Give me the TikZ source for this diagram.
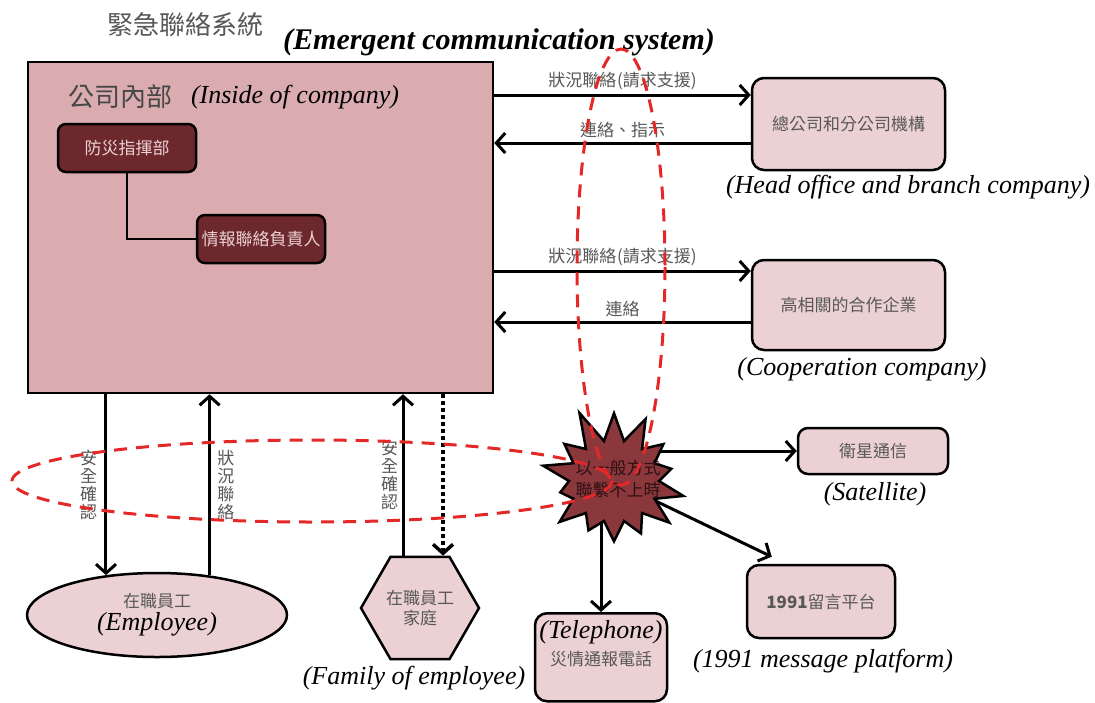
\documentclass[tikz,border=0pt]{standalone}
\usepackage{fontspec}
\setmainfont{Liberation Serif}
\newfontfamily\cjk{Noto Sans CJK TC}
\usetikzlibrary{positioning,arrows.meta,shapes.geometric,shapes.symbols}

\definecolor{boxpink}{RGB}{218,172,176}
\definecolor{lightpink}{RGB}{236,209,212}
\definecolor{darkmaroon}{RGB}{108,40,44}
\definecolor{burst}{RGB}{138,56,60}
\definecolor{burstink}{RGB}{48,16,18}
\definecolor{textgrey}{RGB}{88,88,88}
\definecolor{dashred}{RGB}{228,40,40}

\newcommand{\entext}[1]{{\rmfamily\itshape\fontsize{26}{30}\selectfont\color{black}#1}}

\begin{document}
\begin{tikzpicture}[x=1pt, y=-1pt,
	cjktext/.style={font=\cjk\fontsize{17}{20}\selectfont, text=textgrey},
	vtext/.style={font=\cjk\fontsize{17}{18}\selectfont, text=textgrey, align=center},
	eng/.style={font=\fontsize{26}{30}\selectfont\itshape},
	lightbox/.style={draw, line width=2.5pt, rounded corners=12pt, fill=lightpink, cjktext},
	darkbox/.style={draw, line width=2.5pt, rounded corners=8pt, fill=darkmaroon, font=\cjk\fontsize{17}{20}\selectfont, text=lightpink},
	arr/.style={line width=3pt, -{Straight Barb[length=9pt,width=20pt]}},
	redring/.style={draw=dashred, line width=3pt, dash pattern=on 13pt off 9pt}]
	\clip (0,0) rectangle (1095,702);
	\fill[white] (0,0) rectangle (1095,702);
	\node[font=\cjk\fontsize{26}{30}\selectfont, text=textgrey] (title) at (185,25) {緊急聯絡系統};
	\node[font=\fontsize{30}{34}\selectfont\bfseries\itshape] (titleen) at (499,42) {(Emergent communication system)};
	\node[draw, line width=2.5pt, fill=boxpink, minimum width=465pt, minimum height=331pt] (inside) at (260.5,227.5) {};
	\node[font=\cjk\fontsize{26}{30}\selectfont, text=textgrey!80!black] (insidecn) at (120,97) {公司內部};
	\node[eng] (insideen) at (295,97) {(Inside of company)};
	\node[darkbox, minimum width=138pt, minimum height=48pt] (bosai) at (127,148) {防災指揮部};
	\node[darkbox, minimum width=128pt, minimum height=48pt] (jouhou) at (261,239) {情報聯絡負責人};
	\draw[line width=2.5pt] (bosai.south) |- (jouhou.west);
	\node[lightbox, minimum width=193pt, minimum height=92pt] (hq) at (848.5,124) {總公司和分公司機構};
	\node[eng] (hqen) at (908,187) {(Head office and branch company)};
	\coordinate (hqin) at ([yshift=29pt]hq.west);
	\coordinate (hqout) at ([yshift=-19pt]hq.west);
	\draw[arr] (inside.east |- hqin) -- node[above, cjktext] {狀況聯絡\hspace{1pt}(請求支援)} (hqin);
	\draw[arr] (hqout) -- node[above, cjktext] {連絡、指示} (inside.east |- hqout);
	\node[lightbox, minimum width=193pt, minimum height=90pt] (coop) at (848.5,305) {高相關的合作企業};
	\node[eng] (coopen) at (862,369) {(Cooperation company)};
	\coordinate (coopin) at ([yshift=34pt]coop.west);
	\coordinate (coopout) at ([yshift=-17pt]coop.west);
	\draw[arr] (inside.east |- coopin) -- node[above, cjktext] {狀況聯絡\hspace{1pt}(請求支援)} (coopin);
	\draw[arr] (coopout) -- node[above, cjktext] {連絡} (inside.east |- coopout);
	\node[draw, ellipse, line width=2.5pt, fill=lightpink, minimum width=260pt, minimum height=84pt, align=center, cjktext] (emp) at (157,615) {在職員工\\[3pt]\entext{(Employee)}};
	\draw[arr] (emp.142 |- inside.south) -- node[left, vtext, xshift=-4pt] {安\\全\\確\\認} (emp.142);
	\draw[arr] (emp.37) -- node[right, vtext, xshift=3pt] {狀\\況\\聯\\絡} (emp.37 |- inside.south);
	\node[draw, regular polygon, regular polygon sides=6, minimum size=118pt, line width=2.5pt, fill=lightpink, inner sep=0pt, align=center, cjktext] (fam) at (420,608) {在職員工\\家庭};
	\node[eng] (famen) at (414,678) {(Family of employee)};
	\coordinate (famup) at ([xshift=-17pt]fam.north);
	\coordinate (famdn) at ([xshift=23pt]fam.north);
	\draw[arr] (famup) -- node[left, vtext] {安\\全\\確\\認} (famup |- inside.south);
	\draw[arr, line width=3.5pt, dash pattern=on 4pt off 3pt] (famdn |- inside.south) -- (famdn);
	\node[lightbox, minimum width=150pt, minimum height=46pt, rounded corners=10pt] (sat) at (873,451) {衛星通信};
	\node[eng] (saten) at (875,494) {(Satellite)};
	\node[lightbox, minimum width=132pt, minimum height=88pt, anchor=north] (tel) at (601,612) {};
	\node[eng, below=5pt of tel.north] (telen) {(Telephone)};
	\node[cjktext, below=0pt of telen] (telcn) {災情通報電話};
	\node[lightbox, minimum width=148pt, minimum height=73pt] (msg) at (821,601.5) {{\bfseries 1991}留言平台};
	\node[eng] (msgen) at (823,661) {(1991 message platform)};
	\coordinate (burstc) at (614,481);
	\coordinate (msgtip) at ([xshift=26pt,yshift=7pt]msg.north west);
	\draw[arr] (burstc |- sat.west) -- (sat.west);
	\draw[arr] (burstc -| tel.north) -- (tel.north);
	\draw[arr] (burstc) -- (msgtip);
	\node[starburst, starburst points=14, starburst point height=36pt, random starburst=11, draw, line width=2.5pt, fill=burst, minimum width=162pt, minimum height=154pt, inner sep=0pt] (star) at (burstc) {};
	\node[align=center, text=burstink, font=\cjk\fontsize{17}{22}\selectfont] (startext) at ([xshift=4pt,yshift=2pt]star.center) {以一般方式\\聯繫不上時};
	\draw[redring] (621,267) ellipse [x radius=44, y radius=218];
	\draw[redring] (312,481) ellipse [x radius=300, y radius=41];
\end{tikzpicture}
\end{document}
